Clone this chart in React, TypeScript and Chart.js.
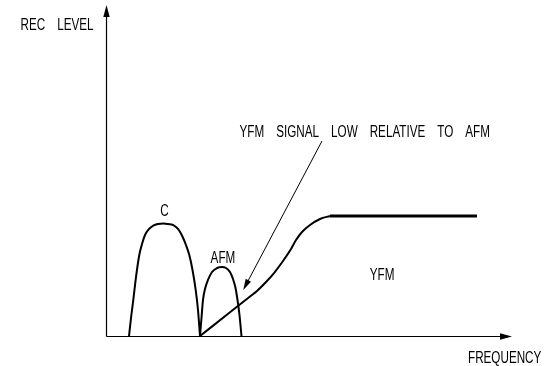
import React, { useEffect, useRef } from "react";
import { Chart, registerables } from "chart.js";

Chart.register(...registerables);

// Arbitrary schematic units: frequency 0..100, recording level 0..100
const FREQ_RANGE = [0, 100];
const LEVEL_RANGE = [0, 100];

// "C" (chroma) hump
const C_FREQ = [5.67, 6.16, 6.72, 7.39, 8.2, 8.87, 9.61, 10.59, 11.65, 12.81, 14.11, 15.27, 16.58, 17.73, 18.65, 19.7, 20.52, 21.31, 22.09, 22.66, 23.15];
const C_LEVEL = [0, 5.44, 10.88, 17.82, 24.47, 27.79, 30.51, 32.33, 33.38, 33.84, 33.99, 33.84, 33.53, 32.33, 30.51, 27.49, 24.47, 19.94, 13.9, 7.85, 0];

// "AFM" hump
const AFM_FREQ = [23.15, 23.52, 23.89, 24.38, 25.12, 26.11, 27.34, 28.57, 29.56, 30.54, 31.28, 31.9, 32.39, 32.88, 33.37];
const AFM_LEVEL = [0, 5.44, 10.88, 14.2, 16.92, 19.34, 20.54, 20.85, 20.54, 19.34, 17.22, 14.5, 10.88, 6.34, 0];

// "YFM" rising edge
const YFM_RISE_FREQ = [23.15, 30.54, 35.47, 37.19, 39.41, 41.38, 43.6, 45.57, 46.8, 48.28, 50.25, 52.71, 55.17];
const YFM_RISE_LEVEL = [0, 7.16, 11.93, 13.6, 16.31, 19.03, 22.66, 26.28, 29.0, 31.42, 33.53, 35.35, 36.25];

// "YFM" flat top
const YFM_FLAT_FREQ = [55.17, 91.38];
const YFM_FLAT_LEVEL = [36.25, 36.25];

// Labels
const AXIS_Y_TITLE = "REC LEVEL";
const AXIS_X_TITLE = "FREQUENCY";
const CURVE_LABELS = ["C", "AFM", "YFM"];
const CURVE_LABEL_FREQ = [14.4, 28.8, 68.0];
const CURVE_LABEL_LEVEL = [36.4, 22.05, 16.9];

// Annotation
const NOTE_TEXT = "YFM SIGNAL LOW RELATIVE TO AFM";
const NOTE_TEXT_POS = [32.9, 60.1]; // left, baseline
const NOTE_ARROW_FROM = [53.2, 58.9];
const NOTE_ARROW_TO = [33.8, 13.9];

const toPts = (xs: number[], ys: number[]) => xs.map((x, i) => ({ x, y: ys[i] }));

const FONT = "16px 'Liberation Sans', Arial, sans-serif";
const SX = 0.73;
const GAP = 12;

function drawWords(
  ctx: CanvasRenderingContext2D,
  text: string,
  x: number,
  y: number,
  align: "left" | "center" | "right"
) {
  const words = text.split(" ");
  const widths = words.map((w) => ctx.measureText(w).width * SX);
  const total = widths.reduce((a, b) => a + b, 0) + GAP * (words.length - 1);
  let cx = align === "left" ? x : align === "center" ? x - total / 2 : x - total;
  words.forEach((w, i) => {
    ctx.save();
    ctx.translate(cx, y);
    ctx.scale(SX, 1);
    ctx.fillText(w, 0, 0);
    ctx.restore();
    cx += widths[i] + GAP;
  });
}

function arrowHead(
  ctx: CanvasRenderingContext2D,
  fx: number,
  fy: number,
  tx: number,
  ty: number,
  len: number,
  half: number
) {
  const a = Math.atan2(ty - fy, tx - fx);
  const bx = tx - len * Math.cos(a);
  const by = ty - len * Math.sin(a);
  const nx = -Math.sin(a);
  const ny = Math.cos(a);
  ctx.beginPath();
  ctx.moveTo(tx, ty);
  ctx.lineTo(bx + nx * half, by + ny * half);
  ctx.lineTo(bx - nx * half, by - ny * half);
  ctx.closePath();
  ctx.fill();
}

const decorPlugin = {
  id: "decor",
  afterDatasetsDraw(chart: any) {
    const ctx: CanvasRenderingContext2D = chart.ctx;
    const { left, right, top, bottom } = chart.chartArea;
    const xs = chart.scales.x;
    const ys = chart.scales.y;
    ctx.save();
    ctx.strokeStyle = "#000";
    ctx.fillStyle = "#000";
    ctx.lineWidth = 1.2;
    // axes
    const ax = Math.round(left) + 0.5;
    const ay = Math.round(bottom) + 0.5;
    ctx.beginPath();
    ctx.moveTo(ax, ay);
    ctx.lineTo(ax, top + 8);
    ctx.moveTo(ax, ay);
    ctx.lineTo(right - 8, ay);
    ctx.stroke();
    arrowHead(ctx, ax, ay, ax, top, 12, 3.2);
    arrowHead(ctx, ax, ay, right, ay, 12, 3.2);

    // annotation arrow
    const fx = xs.getPixelForValue(NOTE_ARROW_FROM[0]);
    const fy = ys.getPixelForValue(NOTE_ARROW_FROM[1]);
    const tx = xs.getPixelForValue(NOTE_ARROW_TO[0]);
    const ty = ys.getPixelForValue(NOTE_ARROW_TO[1]);
    const a = Math.atan2(ty - fy, tx - fx);
    ctx.lineWidth = 1;
    ctx.beginPath();
    ctx.moveTo(fx, fy);
    ctx.lineTo(tx - 6 * Math.cos(a), ty - 6 * Math.sin(a));
    ctx.stroke();
    arrowHead(ctx, fx, fy, tx, ty, 11, 3);

    // texts
    ctx.font = FONT;
    ctx.textAlign = "left";
    ctx.textBaseline = "alphabetic";
    drawWords(ctx, AXIS_Y_TITLE, left - 12.5, top + 25, "right");
    drawWords(ctx, AXIS_X_TITLE, right - 44, bottom + 27, "left");
    CURVE_LABELS.forEach((t, i) => {
      drawWords(
        ctx,
        t,
        xs.getPixelForValue(CURVE_LABEL_FREQ[i]),
        ys.getPixelForValue(CURVE_LABEL_LEVEL[i]),
        "center"
      );
    });
    drawWords(
      ctx,
      NOTE_TEXT,
      xs.getPixelForValue(NOTE_TEXT_POS[0]),
      ys.getPixelForValue(NOTE_TEXT_POS[1]),
      "left"
    );
    ctx.restore();
  },
};

export default function App() {
  const ref = useRef<HTMLCanvasElement | null>(null);
  useEffect(() => {
    if (!ref.current) return;
    const line = (data: any[], width: number) => ({
      data,
      showLine: true,
      borderColor: "#000",
      backgroundColor: "#000",
      borderWidth: width,
      pointRadius: 0,
      pointHoverRadius: 0,
      fill: false,
      cubicInterpolationMode: "monotone" as const,
      borderJoinStyle: "round" as const,
    });
    const chart = new Chart(ref.current, {
      type: "scatter",
      data: {
        datasets: [
          line(toPts(C_FREQ, C_LEVEL), 2),
          line(toPts(AFM_FREQ, AFM_LEVEL), 2),
          line(toPts(YFM_RISE_FREQ, YFM_RISE_LEVEL), 2),
          line(toPts(YFM_FLAT_FREQ, YFM_FLAT_LEVEL), 3),
        ],
      },
      options: {
        responsive: false,
        animation: false,
        devicePixelRatio: 1,
        layout: { padding: { left: 106, right: 39, top: 5, bottom: 30 } },
        scales: {
          x: { type: "linear", min: FREQ_RANGE[0], max: FREQ_RANGE[1], display: false },
          y: { type: "linear", min: LEVEL_RANGE[0], max: LEVEL_RANGE[1], display: false },
        },
        plugins: { legend: { display: false }, tooltip: { enabled: false } },
        events: [],
      },
      plugins: [decorPlugin],
    });
    return () => chart.destroy();
  }, []);
  return (
    <div style={{ position: "absolute", left: 0, top: 0, width: 551, height: 366, background: "#fff" }}>
      <canvas ref={ref} width={551} height={366} style={{ display: "block" }} />
    </div>
  );
}
